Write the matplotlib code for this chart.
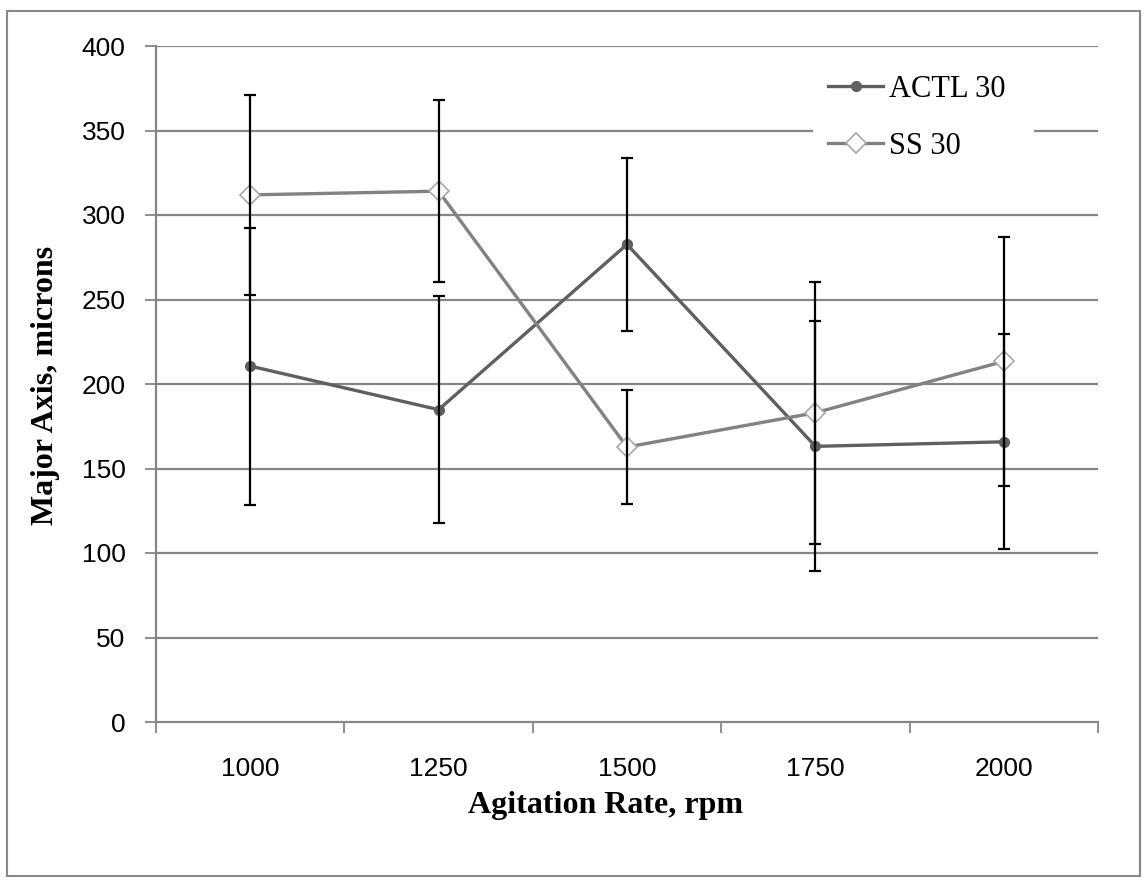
import matplotlib
matplotlib.use('Agg')
import matplotlib.pyplot as plt
import matplotlib.patches as patches
import numpy as np

# Agitation rate categories and the two series (mean major axis +/- std dev)
rates = ['1000', '1250', '1500', '1750', '2000']
actl_mean = [210.6, 184.8, 282.6, 163.1, 165.8]
actl_err = [82.0, 67.0, 51.0, 74.0, 63.5]
ss_mean = [311.9, 314.1, 162.7, 183.0, 213.4]
ss_err = [59.0, 54.0, 34.0, 77.6, 73.5]

W, H = 1148, 886
fig = plt.figure(figsize=(W / 100, H / 100), dpi=100)
fig.patch.set_facecolor('white')

def px(x, y):
    # pixel position (from top-left) -> figure fraction
    return x / W, 1 - y / H

# outer chart border
fig.patches.append(patches.Rectangle(px(7, 876), (1140 - 7) / W, (876 - 11) / H,
                                     transform=fig.transFigure, fill=False,
                                     edgecolor='#888888', linewidth=1.5))

left, right, top, bottom = 156, 1098, 46, 722
ax = fig.add_axes([left / W, 1 - bottom / H, (right - left) / W, (bottom - top) / H])

x = np.arange(len(rates))
grid_col = '#868686'

ax.set_ylim(0, 400)
ax.set_xlim(-0.5, len(rates) - 0.5)
ax.set_yticks(np.arange(0, 401, 50))
for v in np.arange(50, 401, 50):
    ax.axhline(v, color=grid_col, linewidth=1.6, zorder=1)

# white patch behind the legend hides the gridline there
ax.add_patch(patches.Rectangle(px(813, 178), (1034 - 813) / W, (178 - 62) / H,
                               transform=fig.transFigure, facecolor='white',
                               edgecolor='none', zorder=2, clip_on=False))

ax.plot(x, actl_mean, color='#5f5f5f', linewidth=2.4, marker='o', markersize=7,
        markerfacecolor='#5f5f5f', markeredgecolor='#5f5f5f', label='ACTL 30', zorder=3)
ax.plot(x, ss_mean, color='#828282', linewidth=2.4, marker='D', markersize=10,
        markerfacecolor='white', markeredgecolor='#a8a8a8', markeredgewidth=1.2,
        label='SS 30', zorder=3)

for mean, err in [(actl_mean, actl_err), (ss_mean, ss_err)]:
    ax.errorbar(x, mean, yerr=err, fmt='none', ecolor='black', elinewidth=1.6,
                capsize=4.5, capthick=1.6, zorder=4)

# category boundaries get tick marks, labels sit between them
ax.set_xticks(np.arange(-0.5, len(rates), 1.0))
ax.set_xticklabels([])
ax.set_xticks(x, minor=True)
ax.set_xticklabels(rates, minor=True, fontsize=19, family='Liberation Sans')
ax.tick_params(axis='x', which='major', length=8, width=1.3, color=grid_col, direction='out')
ax.tick_params(axis='x', which='minor', length=0, pad=25)
ax.tick_params(axis='y', length=8, width=1.3, color=grid_col, direction='out', pad=14,
               labelsize=19)
for lab in ax.get_yticklabels():
    lab.set_family('Liberation Sans')

for s in ['top', 'right']:
    ax.spines[s].set_visible(False)
ax.spines['left'].set_color(grid_col)
ax.spines['left'].set_linewidth(1.6)
ax.spines['bottom'].set_color(grid_col)
ax.spines['bottom'].set_linewidth(1.6)

fig.text(*px(606, 806), 'Agitation Rate, rpm', ha='center', va='center',
         fontsize=23, fontweight='bold', family='Liberation Serif')
fig.text(*px(46, 385), 'Major Axis, microns', ha='center', va='center',
         rotation=90, fontsize=23, fontweight='bold', family='Liberation Serif')

ax.legend(loc='upper left', bbox_to_anchor=px(828, 75), bbox_transform=fig.transFigure,
          borderaxespad=0, borderpad=0, handlelength=1.8, handletextpad=0.2,
          labelspacing=0.92, frameon=False,
          prop={'family': 'Liberation Serif', 'size': 22})

fig.savefig('out.png', dpi=100)
